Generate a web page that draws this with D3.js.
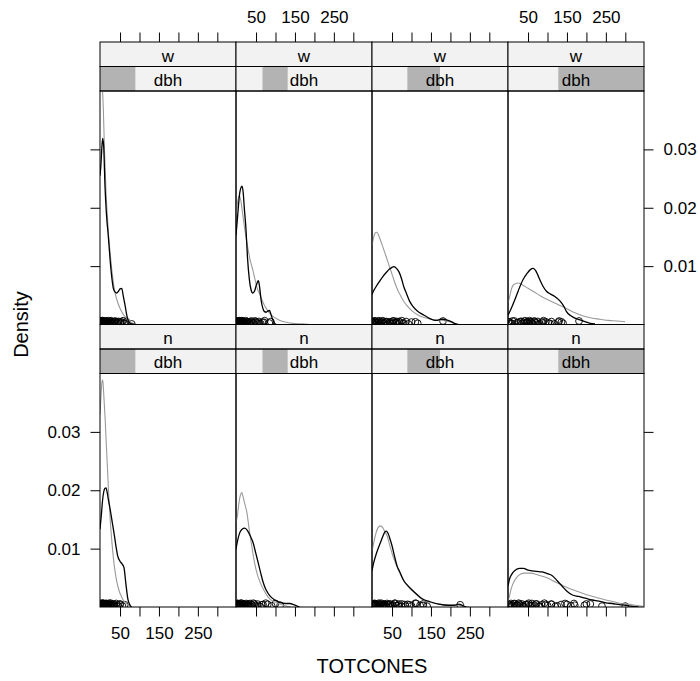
<!DOCTYPE html>
<html><head><meta charset="utf-8">
<script src="https://cdn.jsdelivr.net/npm/d3@7"></script>
<style>body{margin:0;background:#fff}</style>
</head><body><svg id="c" width="700" height="681"></svg>
<script>
// ---------- data ----------
const rowLevels = ["w", "n"];            // top row, bottom row
const dbhRange = [0, 100];
const dbhLevels = [[0, 26], [19.5, 38], [26, 50], [37, 100]];
const xTicks = [50, 100, 150, 200, 250, 300];
const xTickLabels = ["50", "", "150", "", "250", ""];
const yTicks = [0.01, 0.02, 0.03];
const yTickLabels = ["0.01", "0.02", "0.03"];
const xDomain = [-1.5, 348];
const yDomain = [0, 0.04];
const xTitle = "TOTCONES";
const yTitle = "Density";

// density curves (x = TOTCONES, y = density); A = black group, B = grey group
const dens_w1_A = [[-1.5,0.0255],[1,0.0275],[3,0.030],[5.4,0.0319],[8,0.0305],[11.4,0.0236],[15,0.019],[19.9,0.0151],[24,0.0115],[28.6,0.0082],[32.8,0.0062],[37,0.0056],[41.5,0.0054],[46,0.0057],[50,0.0061],[54.4,0.0062],[58,0.005],[63.4,0.0031],[67,0.0017],[70.3,0.0008],[74.4,0.0003],[80,0.0001],[90,0]];
const dens_w1_B = [[-1.5,0.043],[1.5,0.045],[4,0.0415],[7,0.037],[10,0.030],[13.5,0.0235],[17,0.019],[21,0.015],[25,0.012],[29,0.0093],[33,0.0072],[37,0.0055],[42,0.0042],[49,0.0029],[55,0.0021],[61,0.0015],[67,0.0011],[74,0.0006],[80,0.0003],[88,0.0001],[95,0]];
const dens_w2_A = [[-1.5,0.0153],[2,0.018],[5,0.0205],[8,0.0225],[11,0.0234],[14,0.0237],[17,0.0226],[20,0.0198],[24.3,0.0162],[28,0.0115],[32.9,0.0077],[37,0.006],[41.5,0.0054],[46,0.0057],[51,0.0068],[56,0.0075],[59,0.0065],[63,0.0042],[67,0.0029],[71.7,0.0022],[76,0.0021],[80,0.0023],[84.5,0.0024],[89,0.0016],[93,0.0008],[98,0.0002],[102,0]];
const dens_w2_B = [[-1.5,0.0185],[3,0.0212],[7,0.022],[11,0.0212],[15,0.0193],[20,0.0168],[24,0.015],[28.4,0.0133],[35,0.011],[41.5,0.0094],[48,0.0075],[53,0.0062],[58.5,0.0054],[64,0.0044],[70,0.0035],[75.8,0.0028],[84,0.002],[93,0.0014],[105,0.0009],[115,0.0006],[127,0.0004],[145,0.0002],[170,0.0001],[190,0]];
const dens_w3_A = [[-1.5,0.0052],[3.7,0.0059],[10,0.0066],[18,0.0074],[26.3,0.0082],[35,0.0089],[43.5,0.0095],[50,0.0098],[54.8,0.0099],[60,0.0097],[65,0.0093],[69.3,0.0088],[75,0.0077],[80,0.0065],[86.5,0.0054],[95,0.004],[103.6,0.0031],[115,0.0023],[129.4,0.0017],[142,0.0012],[155,0.0008],[165,0.0007],[175,0.0009],[181,0.0009],[190,0.0008],[202,0.0005],[210,0.0002],[219,0]];
const dens_w3_B = [[-1.5,0.0135],[2.2,0.0148],[6,0.0156],[10.9,0.0158],[16,0.0152],[21,0.0143],[26.3,0.0133],[35,0.0116],[43.5,0.0099],[52,0.0082],[60.7,0.0065],[69,0.0053],[77.9,0.0042],[90,0.0031],[103.6,0.0022],[120,0.0015],[137.9,0.0011],[150,0.0009],[163.7,0.0008],[181,0.0007],[195,0.0005],[205,0.0003],[215,0.0001],[225,0]];
const dens_w4_A = [[-1.5,0.0016],[2.9,0.0022],[9,0.0031],[15.8,0.0042],[25,0.0058],[37.3,0.0077],[48,0.0088],[56,0.0094],[63,0.0096],[70,0.0092],[75,0.0085],[80,0.0077],[88,0.0066],[97.3,0.0057],[108,0.0052],[118.8,0.0048],[128,0.0043],[136,0.0037],[143,0.003],[148.9,0.0022],[160,0.0015],[170.4,0.0011],[183,0.0008],[196,0.0005],[210,0.0002],[222,0.0001]];
const dens_w4_B = [[-1.5,0.0036],[2.9,0.0048],[7,0.006],[11.4,0.0067],[17,0.007],[24.3,0.0071],[35,0.0068],[50,0.0062],[65,0.0056],[84.4,0.0048],[105,0.0041],[127.5,0.0034],[150,0.0027],[170.4,0.002],[190,0.0015],[213.3,0.0011],[235,0.0009],[256,0.0007],[278,0.0006],[299,0.0005]];
const dens_n1_A = [[-1.5,0.0133],[2,0.0158],[5,0.0182],[8,0.0197],[11,0.0203],[14,0.0204],[17,0.0196],[20,0.0184],[24.7,0.0167],[30,0.0145],[35.6,0.0122],[40,0.0102],[44.1,0.0087],[50.3,0.0078],[55,0.0074],[60,0.0068],[65,0.004],[70,0.0014],[75,0.0004],[80,0]];
const dens_n1_B = [[-1.5,0.033],[1.1,0.0361],[3,0.0382],[5.4,0.0389],[8,0.0366],[11.8,0.0321],[15,0.0275],[17.8,0.0236],[21,0.0192],[24.7,0.015],[29,0.0112],[33.2,0.0082],[37,0.0062],[42,0.0042],[48,0.0027],[54.9,0.0016],[61,0.0009],[67.8,0.0005],[74,0.0002],[80,0]];
const dens_n2_A = [[-1.5,0.0099],[3,0.0115],[8,0.0127],[14,0.0133],[21,0.0135],[28,0.0131],[35,0.0122],[42.5,0.011],[49,0.0093],[55.5,0.0076],[62,0.0058],[68.4,0.0042],[76,0.0029],[85.7,0.0019],[98,0.0012],[111.4,0.0008],[125,0.0006],[137,0.0006],[146,0.0004],[154,0.0002],[162,0]];
const dens_n2_B = [[-1.5,0.0145],[2,0.0156],[6,0.0178],[10,0.0192],[13.4,0.0196],[17,0.0188],[21,0.0177],[26.4,0.0162],[32,0.0135],[39.2,0.0104],[45,0.008],[52,0.0059],[60,0.0043],[69.3,0.003],[78,0.002],[86.5,0.0013],[100,0.0008],[112,0.0005],[125,0.0002],[138,0]];
const dens_n3_A = [[-1.5,0.0062],[2.9,0.0076],[10,0.0092],[20,0.011],[27,0.0122],[32,0.0129],[35.5,0.013],[40,0.0126],[45,0.0116],[50.3,0.0104],[56,0.0088],[63,0.007],[70,0.006],[80.3,0.0045],[90,0.0037],[101.7,0.0029],[115,0.0021],[127.5,0.0014],[148,0.0009],[170.4,0.0005],[196,0.0003],[210,0.0003],[222,0.0005],[230,0.0003],[240,0]];
const dens_n3_B = [[-1.5,0.0095],[2.9,0.011],[8,0.0125],[14,0.0136],[20,0.0139],[26,0.0136],[31,0.013],[37.3,0.0122],[44,0.0106],[51,0.009],[58.7,0.0076],[66,0.0064],[73,0.0054],[80.3,0.0045],[90,0.0036],[101.7,0.0028],[115,0.002],[127.5,0.0013],[148,0.0008],[170.4,0.0005],[195,0.0003],[222,0.0003],[235,0.0001],[248,0]];
const dens_n4_A = [[-1.5,0.0036],[2.4,0.0048],[8,0.0056],[17,0.0063],[28,0.0066],[38.6,0.0066],[50,0.0063],[60,0.0062],[72,0.0061],[85.8,0.006],[100,0.0057],[111.6,0.0054],[125,0.0045],[137.3,0.0036],[150,0.0027],[163,0.0021],[180,0.0018],[197.4,0.0015],[215,0.0012],[231.8,0.001],[250,0.0007],[266,0.0006],[285,0.0004],[300,0.0003],[318,0.0001],[334,0]];
const dens_n4_B = [[-1.5,0.001],[2.4,0.0019],[7,0.0032],[12.8,0.0042],[20,0.005],[30,0.0056],[42,0.0058],[55.7,0.0058],[75,0.0055],[98.7,0.005],[120,0.0043],[141.7,0.0036],[163,0.003],[184.6,0.0025],[206,0.002],[227.6,0.0016],[250,0.0012],[270.5,0.0009],[290,0.0006],[304.9,0.0005],[325,0.0003],[345,0.0001]];

// raw observations (TOTCONES) shown as jittered points
const obs_w1_A = [0,1,1,2,3,3,4,5,6,7,8,9,10,11,12,13,14,16,18,20,22,25,28,30,33,35,38,42,47,52,55,58,62,66,80];
const obs_w1_B = [0,0,1,2,2,3,4,5,6,7,8,9,10,12,14,16,18,21,24,27,31,36,40,45,52,60];
const obs_w2_A = [0,1,2,3,4,5,6,7,8,9,10,11,12,13,14,15,17,19,21,23,25,28,31,34,38,42,47,52,57,62,66,72,84,88];
const obs_w2_B = [0,2,4,5,7,9,11,13,15,18,21,25,29,33,38,44,50,58,70];
const obs_w3_A = [0,3,6,10,14,18,22,26,30,35,40,44,48,52,55,58,62,66,70,75,80,86,92,100,110,116,181];
const obs_w3_B = [0,2,4,6,8,10,13,16,20,24,28,33,38,45,52,60,68,78];
const obs_w4_A = [0,5,10,22,30,35,38,42,45,48,52,55,58,62,66,70,75,80,85,90,102,110,118,128,136,140,181];
const obs_w4_B = [2,8,15,25,33,40,47,54,60,68,76,88,96,106,130];
const obs_n1_A = [0,1,2,3,4,5,6,7,8,9,10,11,12,13,14,15,16,18,20,22,24,26,28,30,33,36,40,44,50,56,62];
const obs_n1_B = [0,0,1,1,2,3,4,5,6,7,8,9,10,12,14,16,18,20,23,26,30,35,42,50];
const obs_n2_A = [0,1,2,3,5,6,8,10,12,14,16,18,20,22,25,28,31,35,39,43,48,54,60,68,80,90,100,112];
const obs_n2_B = [0,1,3,5,7,9,11,13,15,18,21,24,27,31,35,40,46,55,65,75];
const obs_n3_A = [0,2,4,6,8,10,13,16,19,22,25,28,31,34,37,40,44,48,52,57,62,68,75,83,90,100,112,122,130,140,225];
const obs_n3_B = [0,3,6,9,12,15,18,22,26,30,35,40,46,52,58,66,75,85,95,110,130];
const obs_n4_A = [0,3,6,10,14,18,22,26,30,35,40,45,50,55,60,66,72,78,85,92,100,110,120,135,150,160,168,195,210,300];
const obs_n4_B = [2,8,15,22,28,36,44,52,60,70,80,95,110,125,145,170,200,240];

const panels = [
  {row:0, col:0, A:dens_w1_A, B:dens_w1_B, oA:obs_w1_A, oB:obs_w1_B},
  {row:0, col:1, A:dens_w2_A, B:dens_w2_B, oA:obs_w2_A, oB:obs_w2_B},
  {row:0, col:2, A:dens_w3_A, B:dens_w3_B, oA:obs_w3_A, oB:obs_w3_B},
  {row:0, col:3, A:dens_w4_A, B:dens_w4_B, oA:obs_w4_A, oB:obs_w4_B},
  {row:1, col:0, A:dens_n1_A, B:dens_n1_B, oA:obs_n1_A, oB:obs_n1_B},
  {row:1, col:1, A:dens_n2_A, B:dens_n2_B, oA:obs_n2_A, oB:obs_n2_B},
  {row:1, col:2, A:dens_n3_A, B:dens_n3_B, oA:obs_n3_A, oB:obs_n3_B},
  {row:1, col:3, A:dens_n4_A, B:dens_n4_B, oA:obs_n4_A, oB:obs_n4_B}
];
// fixed small vertical offsets used to "jitter" the rug points
const jitterOffsets = [0.00045,0.0002,0.0006,0.0003,0.00052,0.00015,0.00038,0.00065,0.00025,0.0005,0.0001,0.00042];

// ---------- layout ----------
const FONT = "'Liberation Sans', Arial, Helvetica, sans-serif";
const L = { left: 100, colW: 136, topY: 42, stripH: 24.5, panelH: 233.5, tick: 9.5 };
const rowH = 2 * L.stripH + L.panelH;
const FS = 17, FT = 20;
const colorA = "#000000", colorB = "#9a9a9a";
const stripBg = "#f2f2f2", stripShingle = "#b3b3b3";

const svg = d3.select("#c");
svg.append("rect").attr("width",700).attr("height",681).attr("fill","#fff");
const defs = svg.append("defs");

function styleAxis(a) {
  a.select(".domain").remove();
  a.selectAll(".tick line").attr("stroke","#000").attr("stroke-width",1);
  a.selectAll(".tick text").attr("font-family", FONT).attr("font-size", FS).attr("fill","#000");
}

panels.forEach((p, i) => {
  const x0 = L.left + p.col * L.colW;
  const sTop = L.topY + p.row * rowH;
  const pTop = sTop + 2 * L.stripH;
  const pBot = pTop + L.panelH;
  const x = d3.scaleLinear().domain(xDomain).range([x0, x0 + L.colW]);
  const y = d3.scaleLinear().domain(yDomain).range([pBot, pTop]);
  const dbhScale = d3.scaleLinear().domain(dbhRange).range([x0, x0 + L.colW]);

  const g = svg.append("g");
  g.append("rect").attr("x", x0).attr("y", sTop).attr("width", L.colW).attr("height", L.stripH).attr("fill", stripBg);
  g.append("text").attr("x", x0 + L.colW/2).attr("y", sTop + 19.5).attr("text-anchor","middle")
    .attr("font-family", FONT).attr("font-size", FS).text(rowLevels[p.row]);
  const s2 = sTop + L.stripH;
  g.append("rect").attr("x", x0).attr("y", s2).attr("width", L.colW).attr("height", L.stripH).attr("fill", stripBg);
  const lv = dbhLevels[p.col];
  g.append("rect").attr("x", dbhScale(lv[0])).attr("y", s2).attr("width", dbhScale(lv[1]) - dbhScale(lv[0]))
    .attr("height", L.stripH).attr("fill", stripShingle);
  g.append("text").attr("x", x0 + L.colW/2).attr("y", s2 + 19.3).attr("text-anchor","middle")
    .attr("font-family", FONT).attr("font-size", FS).text("dbh");
  [sTop, s2].forEach(sy => g.append("rect").attr("x", x0).attr("y", sy).attr("width", L.colW).attr("height", L.stripH)
    .attr("fill","none").attr("stroke","#000").attr("stroke-width",1));

  const cid = "clip" + i;
  defs.append("clipPath").attr("id", cid).append("rect")
    .attr("x", x0).attr("y", pTop).attr("width", L.colW).attr("height", L.panelH);
  const pg = svg.append("g").attr("clip-path", `url(#${cid})`);

  [p.oB, p.oA].forEach(obs => {
    pg.selectAll(null).data(obs).enter().append("circle")
      .attr("cx", d => x(d))
      .attr("cy", (d, k) => y(jitterOffsets[k % jitterOffsets.length]))
      .attr("r", 3.4).attr("fill","none").attr("stroke", colorA).attr("stroke-width", 0.9);
  });

  const line = d3.line().x(d => x(d[0])).y(d => y(d[1])).curve(d3.curveMonotoneX);
  pg.append("path").attr("d", line(p.B)).attr("fill","none").attr("stroke", colorB).attr("stroke-width", 1.1);
  pg.append("path").attr("d", line(p.A)).attr("fill","none").attr("stroke", colorA).attr("stroke-width", 1.3);

  svg.append("rect").attr("x", x0).attr("y", pTop).attr("width", L.colW).attr("height", L.panelH)
    .attr("fill","none").attr("stroke","#000").attr("stroke-width",1);

  if (p.row === 0) {
    const ax = d3.axisTop(x).tickValues(xTicks).tickSize(L.tick).tickSizeOuter(0).tickPadding(10)
      .tickFormat((d, k) => (p.col % 2 === 1) ? xTickLabels[k] : "");
    styleAxis(svg.append("g").attr("transform", `translate(0,${sTop})`).call(ax));
  } else {
    const ax = d3.axisBottom(x).tickValues(xTicks).tickSize(L.tick).tickSizeOuter(0).tickPadding(10)
      .tickFormat((d, k) => (p.col % 2 === 0) ? xTickLabels[k] : "");
    styleAxis(svg.append("g").attr("transform", `translate(0,${pBot})`).call(ax));
  }
  if (p.col === 0) {
    const ax = d3.axisLeft(y).tickValues(yTicks).tickSize(L.tick).tickSizeOuter(0).tickPadding(10)
      .tickFormat((d, k) => p.row === 1 ? yTickLabels[k] : "");
    styleAxis(svg.append("g").attr("transform", `translate(${x0},0)`).call(ax));
  }
  if (p.col === 3) {
    const ax = d3.axisRight(y).tickValues(yTicks).tickSize(L.tick).tickSizeOuter(0).tickPadding(10)
      .tickFormat((d, k) => p.row === 0 ? yTickLabels[k] : "");
    styleAxis(svg.append("g").attr("transform", `translate(${x0 + L.colW},0)`).call(ax));
  }
});

svg.append("text").attr("x", L.left + 2*L.colW).attr("y", 673).attr("text-anchor","middle")
  .attr("font-family", FONT).attr("font-size", FT).text(xTitle);
svg.append("text").attr("transform", `translate(28,${L.topY + rowH}) rotate(-90)`)
  .attr("text-anchor","middle").attr("font-family", FONT).attr("font-size", FT).text(yTitle);
</script></body></html>
